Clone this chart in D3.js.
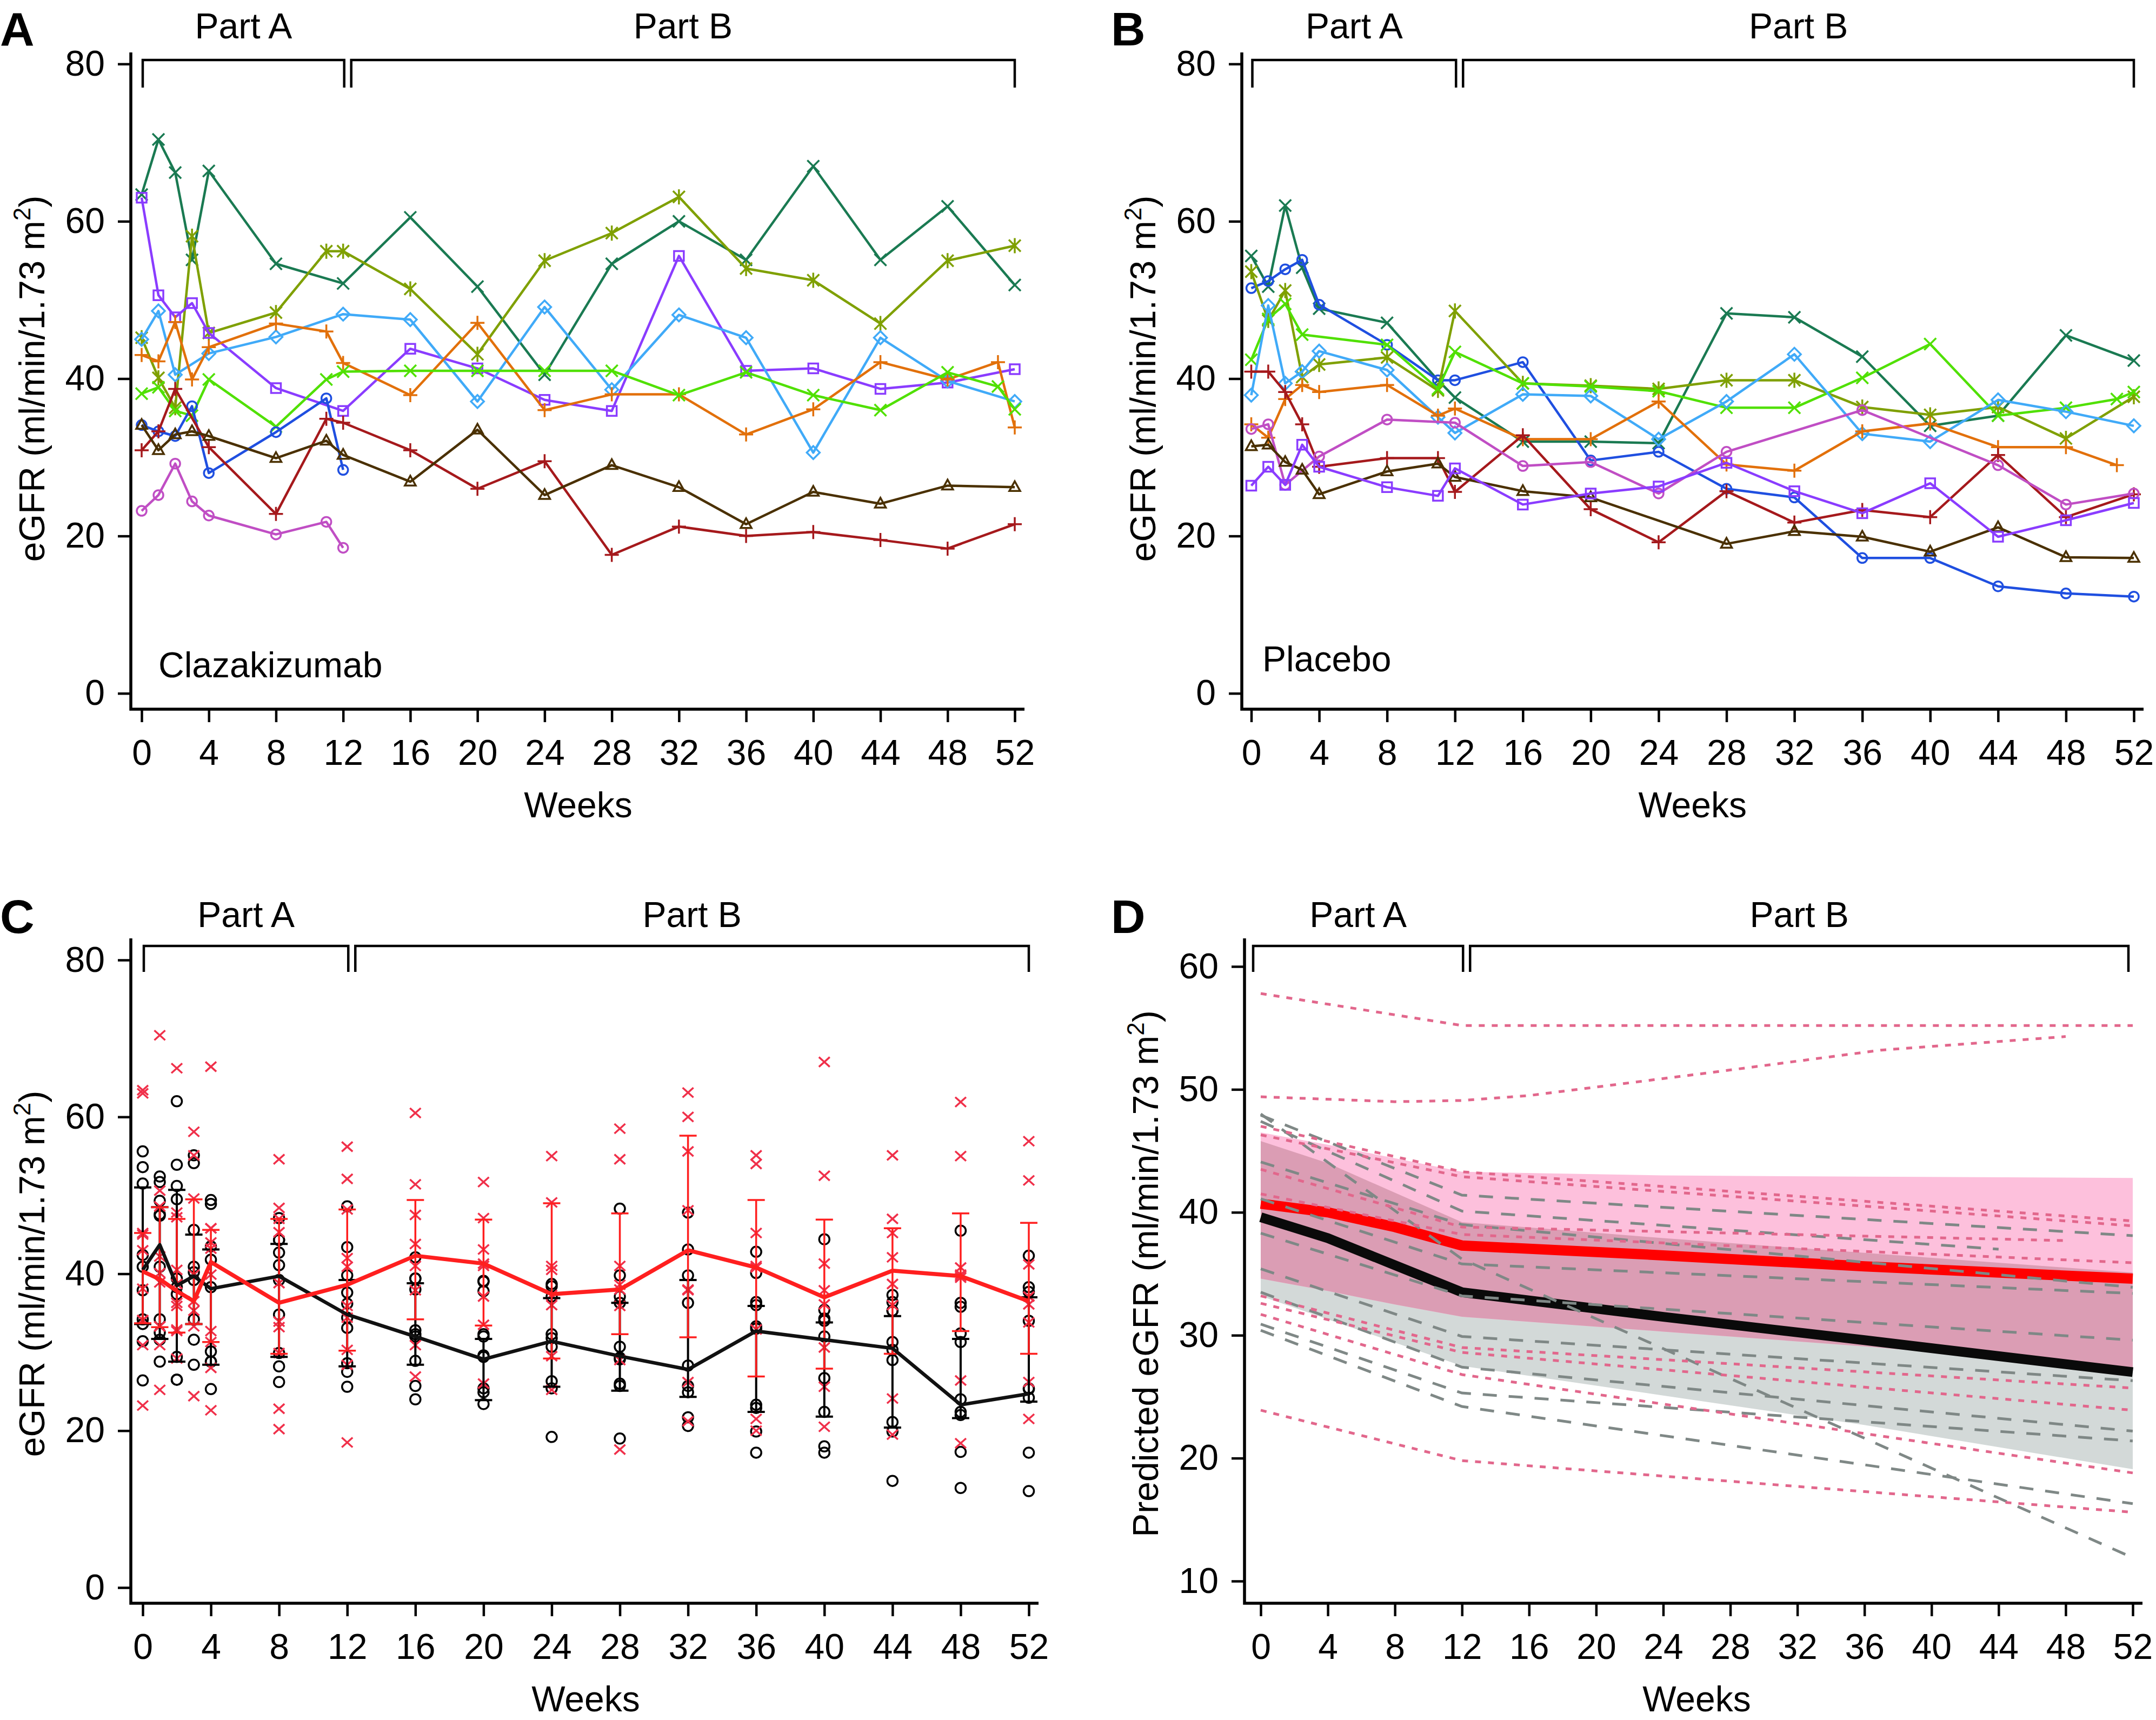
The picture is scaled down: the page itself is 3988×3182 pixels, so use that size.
<!DOCTYPE html>
<html><head><meta charset="utf-8">
<script src="https://cdn.jsdelivr.net/npm/d3@7"></script>
<style>body{margin:0;background:#fff}svg{display:block}</style>
</head><body>
<script>
// ---------------- DATA ----------------
// visit weeks shared by panels A and B (null = no visit)
const visitWeeks = [0,1,2,3,4,8,11,12,16,20,24,28,32,36,40,44,48,51,52];

// Panel A – individual clazakizumab patients (eGFR)
const clazP1  = [63.4,70.4,66.2,55.1,66.4,54.6,null,52.1,60.5,51.7,40.5,54.6,60.0,55.1,67.0,55.1,61.9,null,51.9];
const clazP2  = [45.2,40.1,36.3,58.1,45.8,48.4,56.2,56.2,51.4,43.1,55.0,58.5,63.1,54.0,52.5,47.0,55.0,null,56.9];
const clazP3  = [63.0,50.6,47.8,49.6,45.8,38.8,null,35.9,43.8,41.3,37.3,35.9,55.6,41.0,41.3,38.7,39.5,null,41.2];
const clazP4  = [45.0,48.6,40.5,null,43.2,45.3,null,48.2,47.5,37.1,49.1,38.6,48.1,45.2,30.6,45.2,39.7,null,37.1];
const clazP5  = [43.0,42.2,47.2,39.9,44.0,47.0,46.0,42.0,37.9,47.1,36.0,38.0,38.0,32.9,36.1,42.1,39.9,42.1,33.8];
const clazP6  = [38.1,38.9,35.9,35.3,39.9,33.9,39.9,40.9,41.0,41.0,41.0,41.0,37.9,40.8,37.9,36.0,40.8,39.0,36.1];
const clazP7  = [34.1,33.3,32.7,36.5,28.0,33.2,37.5,28.4,null,null,null,null,null,null,null,null,null,null,null];
const clazP8  = [30.9,33.3,38.7,null,31.3,22.8,34.9,34.4,30.9,26.0,29.5,17.6,21.2,20.0,20.5,19.5,18.4,null,21.5];
const clazP9  = [34.1,30.9,32.9,33.3,32.7,29.9,32.1,30.3,26.9,33.5,25.2,29.0,26.2,21.5,25.6,24.1,26.4,null,26.2];
const clazP10 = [23.2,25.2,29.2,24.4,22.6,20.2,21.8,18.5,null,null,null,null,null,null,null,null,null,null,null];
const clazSeries  = [clazP1,clazP2,clazP3,clazP4,clazP5,clazP6,clazP7,clazP8,clazP9,clazP10];
const clazColors  = ["#1a7a52","#7fa000","#8a3cff","#40aaf8","#e2700a","#50e000","#1f4fe0","#a5191c","#4a3000","#c04ec4"];
const clazMarkers = ["x","asterisk","square","diamond","plus","x","circle","plus","triangle","circle"];

// Panel B – individual placebo patients (eGFR)
const placP1  = [55.6,51.7,62.0,54.1,48.9,47.1,39.8,37.6,32.0,32.0,31.8,48.3,47.8,42.8,34.0,35.3,45.5,null,42.3];
const placP2  = [51.5,52.4,53.9,55.1,49.4,44.3,39.8,39.8,42.1,29.6,30.7,26.0,24.9,17.2,17.2,13.6,12.7,null,12.3];
const placP3  = [53.6,47.4,51.2,40.2,41.8,42.7,38.5,48.6,39.4,39.1,38.7,39.8,39.8,36.4,35.4,36.4,32.4,null,37.7];
const placP4  = [42.4,47.6,49.5,45.6,null,44.3,38.7,43.4,39.4,39.0,38.4,36.3,36.3,40.1,44.4,35.3,36.3,37.4,38.3];
const placP5  = [37.9,49.3,39.4,40.9,43.5,41.1,35.1,33.1,38.0,37.8,32.3,37.1,43.1,33.0,32.0,37.3,35.8,null,34.0];
const placP6  = [34.2,32.5,37.4,39.2,38.3,39.2,35.3,36.2,32.3,32.3,37.1,29.1,28.3,33.3,34.3,31.3,31.3,29.0,null];
const placP7  = [40.9,40.9,38.3,34.2,28.8,29.9,29.9,25.6,32.8,23.4,19.2,25.7,21.7,23.3,22.4,30.3,22.4,null,25.3];
const placP8  = [33.6,34.2,26.5,null,30.1,34.8,null,34.4,28.9,29.4,25.4,30.7,null,36.0,null,29.0,24.0,null,25.4];
const placP9  = [31.4,31.6,29.4,28.4,25.3,28.2,29.2,27.5,25.7,24.9,null,19.0,20.6,19.9,18.0,21.1,17.3,null,17.2];
const placP10 = [26.4,28.8,26.5,31.6,28.8,26.2,25.1,28.6,24.0,25.4,26.3,29.3,25.7,22.9,26.7,19.9,22.0,null,24.2];
const placSeries  = [placP1,placP2,placP3,placP4,placP5,placP6,placP7,placP8,placP9,placP10];
const placColors  = ["#1a7a52","#1f4fe0","#7fa000","#50e000","#40aaf8","#e2700a","#a5191c","#c04ec4","#4a3000","#8a3cff"];
const placMarkers = ["x","circle","asterisk","x","diamond","plus","plus","circle","triangle","square"];

// Panel C – summary (median, IQR) per scheduled visit
const cWeeks  = [0,1,2,3,4,8,12,16,20,24,28,32,36,40,44,48,52];
const clazMed = [40.3,39.3,37.8,36.5,41.5,36.3,38.6,42.3,41.3,37.4,38.0,43.0,40.8,37.0,40.4,39.7,36.5];
const clazQ1  = [33.7,33.2,32.5,33.6,31.3,29.8,30.2,34.2,33.4,29.2,32.3,31.9,26.9,27.9,29.8,32.7,29.8];
const clazQ3  = [45.2,48.5,47.0,49.5,45.6,47.0,48.2,49.4,46.9,49.0,47.7,57.6,49.4,46.9,45.8,47.7,46.5];
const placMed = [40.5,43.7,38.5,39.7,38.1,39.7,34.8,32.0,29.1,31.4,29.5,27.8,32.7,31.6,30.5,23.3,24.7];
const placQ1  = [33.6,31.7,28.8,33.6,28.4,29.4,28.2,28.4,23.9,25.6,25.1,24.3,22.4,21.8,20.4,21.6,23.7];
const placQ3  = [51.0,48.5,50.7,45.0,43.1,43.8,39.2,38.8,31.7,36.9,36.3,39.2,35.9,33.8,34.6,31.7,37.0];

// Panel D – model predictions
const dWeeks   = [0,4,8,12,24,36,52];
const clazPred = [40.7,40.0,38.8,37.3,36.5,35.6,34.6];
const clazLo   = [34.6,33.6,32.5,31.5,30.3,29.1,27.3];
const clazHi   = [46.5,45.5,44.4,43.3,43.0,42.9,42.8];
const placPred = [39.6,37.9,35.7,33.5,31.5,29.6,27.0];
const placLo   = [33.2,31.3,29.4,27.5,25.1,22.7,19.1];
const placHi   = [45.8,44.0,41.6,39.2,37.9,36.7,35.1];
const dClazLines = [
  [[0,57.8],[12,55.2],[52,55.2]],
  [[0,49.4],[8,49.0],[12,49.1],[16,49.5],[27,51.4],[37,53.2],[48,54.3]],
  [[0,47.0],[12,43.3],[52,39.3]],
  [[0,46.3],[12,42.9],[52,38.9]],
  [[0,43.5],[12,38.8],[48,37.7]],
  [[0,41.5],[12,38.2],[52,35.9]],
  [[0,33.2],[12,29.0],[52,25.7]],
  [[0,32.6],[12,28.6],[52,23.9]],
  [[0,31.7],[12,26.8],[52,18.8]],
  [[0,23.9],[12,19.8],[52,15.6]]
];
const dPlacLines = [
  [[0,47.9],[12,41.4],[52,38.1]],
  [[0,47.4],[12,40.1],[44,37.0]],
  [[0,44.1],[12,39.0],[52,33.9]],
  [[0,41.1],[12,35.8],[52,33.4]],
  [[0,38.3],[12,33.2],[52,29.6]],
  [[0,35.4],[12,29.9],[52,26.3]],
  [[0,33.5],[12,27.4],[52,22.2]],
  [[0,30.9],[12,25.3],[52,21.4]],
  [[0,30.4],[12,24.2],[52,16.3]],
  [[0,48.0],[12,36.2],[52,11.9]]
];

const xTickVals = [0,4,8,12,16,20,24,28,32,36,40,44,48,52];

// ---------------- DRAWING ----------------
const FONT = "'Liberation Sans', Arial, Helvetica, sans-serif";
const FS = 66;
const svg = d3.select("body").append("svg").attr("width",3988).attr("height",3182)
  .style("font-family",FONT);
svg.append("rect").attr("width",3988).attr("height",3182).attr("fill","#fff");

function markerPath(t){
  switch(t){
    case "x": return "M-11,-11L11,11M-11,11L11,-11";
    case "asterisk": return "M-11,-11L11,11M-11,11L11,-11M0,-14L0,14";
    case "square": return "M-9,-9H9V9H-9Z";
    case "diamond": return "M0,-12L12,0L0,12L-12,0Z";
    case "plus": return "M-13,0H13M0,-13V13";
    case "circle": return "M9,0A9,9 0 1,1 -9,0A9,9 0 1,1 9,0Z";
    case "triangle": return "M0,-11L10,7H-10Z";
  }
}

function yTitle(g, x, yc, prefix){
  const t = g.append("text").attr("transform",`translate(${x},${yc}) rotate(-90)`)
    .attr("text-anchor","middle").attr("font-size",FS).attr("fill","#000");
  t.append("tspan").text(prefix + "(ml/min/1.73 m");
  t.append("tspan").attr("font-size",44).attr("dy",-26).text("2");
  t.append("tspan").attr("dy",26).text(")");
}

function panel(o){
  const g = svg.append("g");
  const x = d3.scaleLinear().domain([0,52]).range(o.xRange);
  const y = d3.scaleLinear().domain(o.yDomain).range(o.yRange);
  const ya = g.append("g").attr("transform",`translate(${o.axisX},0)`)
    .call(d3.axisLeft(y).tickValues(o.yTicks).tickSize(24).tickPadding(24).tickFormat(d3.format("d")));
  ya.select(".domain").remove();
  ya.selectAll(".tick line").attr("stroke","#000").attr("stroke-width",4.5);
  ya.selectAll(".tick text").attr("font-size",FS).attr("font-family",FONT).attr("fill","#000");
  const xa = g.append("g").attr("transform",`translate(0,${o.axisY})`)
    .call(d3.axisBottom(x).tickValues(xTickVals).tickSize(24).tickPadding(32));
  xa.select(".domain").remove();
  xa.selectAll(".tick line").attr("stroke","#000").attr("stroke-width",4.5);
  xa.selectAll(".tick text").attr("font-size",FS).attr("font-family",FONT).attr("fill","#000");
  g.append("path").attr("d",`M${o.axisX},${o.yTop}V${o.axisY}H${o.xEnd}`)
    .attr("fill","none").attr("stroke","#000").attr("stroke-width",5.5);
  // brackets
  const by = o.bracketY, dy = o.dropY;
  const a1 = x(0)+o.bOff, a2 = x(12)+2, b1 = x(12)+15, b2 = x(52)+o.bEnd;
  g.append("path").attr("d",`M${a1},${dy}V${by}H${a2}V${dy}M${b1},${dy}V${by}H${b2}V${dy}`)
    .attr("fill","none").attr("stroke","#000").attr("stroke-width",4.5);
  g.append("text").attr("x",(a1+a2)/2).attr("y",o.partY).attr("text-anchor","middle")
    .attr("font-size",FS).text("Part A");
  g.append("text").attr("x",(b1+b2)/2).attr("y",o.partY).attr("text-anchor","middle")
    .attr("font-size",FS).text("Part B");
  g.append("text").attr("x",o.letterX).attr("y",o.letterY).attr("font-size",88)
    .attr("font-weight","bold").text(o.letter);
  g.append("text").attr("x",(o.xRange[0]+o.xRange[1])/2).attr("y",o.axisY+200)
    .attr("text-anchor","middle").attr("font-size",FS).text("Weeks");
  yTitle(g, o.axisX-160, (o.yRange[0]+o.yRange[1])/2, o.titlePrefix);
  return {g,x,y};
}

function indivPanel(p, series, colors, markers){
  series.forEach((vals,i)=>{
    const pts = visitWeeks.map((w,j)=>({w, v: vals[j]})).filter(d=>d.v!=null);
    p.g.append("path").datum(pts)
      .attr("d", d3.line().x(d=>p.x(d.w)).y(d=>p.y(d.v)))
      .attr("fill","none").attr("stroke",colors[i]).attr("stroke-width",4.5)
      .attr("stroke-linejoin","round");
    p.g.selectAll(null).data(pts).enter().append("path")
      .attr("transform",d=>`translate(${p.x(d.w)},${p.y(d.v)})`)
      .attr("d",markerPath(markers[i])).attr("fill","none")
      .attr("stroke",colors[i]).attr("stroke-width",3.5);
  });
}

// Panel A
const pA = panel({letter:"A",letterX:0,letterY:84,xRange:[262,1877],yDomain:[0,80],yRange:[1282.7,118.3],
  yTicks:[0,20,40,60,80],axisX:242,axisY:1312,yTop:97,xEnd:1895,bracketY:111,dropY:162,partY:71,
  bOff:2,bEnd:0,titlePrefix:"eGFR "});
indivPanel(pA, clazSeries, clazColors, clazMarkers);
pA.g.append("text").attr("x",293).attr("y",1253).attr("font-size",FS).text("Clazakizumab");

// Panel B
const pB = panel({letter:"B",letterX:2055,letterY:84,xRange:[2314.5,3947],yDomain:[0,80],yRange:[1282.7,118.3],
  yTicks:[0,20,40,60,80],axisX:2297,axisY:1312,yTop:97,xEnd:3965,bracketY:111,dropY:162,partY:71,
  bOff:2,bEnd:0,titlePrefix:"eGFR "});
indivPanel(pB, placSeries, placColors, placMarkers);
pB.g.append("text").attr("x",2335).attr("y",1242).attr("font-size",FS).text("Placebo");

// Panel C
const pC = panel({letter:"C",letterX:0,letterY:1726,xRange:[264,1903],yDomain:[0,80],yRange:[2937,1776],
  yTicks:[0,20,40,60,80],axisX:242,axisY:2966,yTop:1736,xEnd:1921,bracketY:1750,dropY:1798,partY:1715,
  bOff:2,bEnd:0,titlePrefix:"eGFR "});
const RED = "#ff1f1f", XRED = "#f0304a";
// individual observations (same patients as panels A and B)
cWeeks.forEach(w=>{
  const j = visitWeeks.indexOf(w);
  placSeries.forEach(s=>{
    if(s[j]==null) return;
    pC.g.append("circle").attr("cx",pC.x(w)).attr("cy",pC.y(s[j])).attr("r",9.5)
      .attr("fill","none").attr("stroke","#000").attr("stroke-width",3.5);
  });
  clazSeries.forEach(s=>{
    if(s[j]==null) return;
    pC.g.append("path").attr("transform",`translate(${pC.x(w)},${pC.y(s[j])})`)
      .attr("d","M-10,-9L10,9M-10,9L10,-9").attr("fill","none").attr("stroke",XRED).attr("stroke-width",3.5);
  });
});
function errBars(q1,q3,color,sw){
  cWeeks.forEach((w,i)=>{
    const xx = pC.x(w);
    pC.g.append("path").attr("d",`M${xx},${pC.y(q1[i])}V${pC.y(q3[i])}M${xx-16},${pC.y(q1[i])}H${xx+16}M${xx-16},${pC.y(q3[i])}H${xx+16}`)
      .attr("fill","none").attr("stroke",color).attr("stroke-width",sw);
  });
}
errBars(placQ1,placQ3,"#000",4);
errBars(clazQ1,clazQ3,RED,3.5);
const lineC = d3.line().x(d=>pC.x(d[0])).y(d=>pC.y(d[1]));
pC.g.append("path").datum(cWeeks.map((w,i)=>[w,placMed[i]])).attr("d",lineC)
  .attr("fill","none").attr("stroke","#111").attr("stroke-width",6.5).attr("stroke-linejoin","round");
pC.g.append("path").datum(cWeeks.map((w,i)=>[w,clazMed[i]])).attr("d",lineC)
  .attr("fill","none").attr("stroke",RED).attr("stroke-width",7.5).attr("stroke-linejoin","round");

// Panel D
const pD = panel({letter:"D",letterX:2055,letterY:1726,xRange:[2332,3945],yDomain:[10,60],yRange:[2925,1788],
  yTicks:[10,20,30,40,50,60],axisX:2302,axisY:2966,yTop:1736,xEnd:3963,bracketY:1750,dropY:1798,partY:1715,
  bOff:-14,bEnd:-8,titlePrefix:"Predicted eGFR "});
const band = d3.area().x(d=>pD.x(d[0])).y0(d=>pD.y(d[1])).y1(d=>pD.y(d[2]));
pD.g.append("path").datum(dWeeks.map((w,i)=>[w,placLo[i],placHi[i]])).attr("d",band).attr("fill","#d3d9d8");
pD.g.append("path").datum(dWeeks.map((w,i)=>[w,clazLo[i],clazHi[i]])).attr("d",band).attr("fill","#fdc0dc");
pD.g.append("path").datum(dWeeks.map((w,i)=>[w,Math.max(clazLo[i],placLo[i]),Math.min(clazHi[i],placHi[i])]))
  .attr("d",band).attr("fill","#db9db4");
const lineD = d3.line().x(d=>pD.x(d[0])).y(d=>pD.y(d[1]));
pD.g.append("path").datum(dWeeks.map((w,i)=>[w,placPred[i]])).attr("d",lineD)
  .attr("fill","none").attr("stroke","#0a0a0a").attr("stroke-width",18);
pD.g.append("path").datum(dWeeks.map((w,i)=>[w,clazPred[i]])).attr("d",lineD)
  .attr("fill","none").attr("stroke","#ff0000").attr("stroke-width",19);
dPlacLines.forEach(l=>{
  pD.g.append("path").datum(l).attr("d",lineD).attr("fill","none")
    .attr("stroke","#7f8886").attr("stroke-width",5).attr("stroke-dasharray","26,22");
});
dClazLines.forEach(l=>{
  pD.g.append("path").datum(l).attr("d",lineD).attr("fill","none")
    .attr("stroke","#e2678c").attr("stroke-width",5).attr("stroke-dasharray","11,13");
});
</script>
</body></html>
